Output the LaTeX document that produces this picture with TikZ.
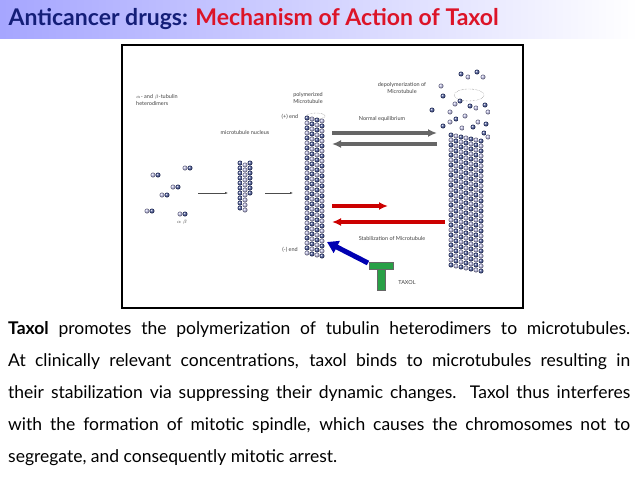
\documentclass[tikz,border=0pt]{standalone}
\usepackage{fontspec}
\setmainfont{Lato}
\usetikzlibrary{arrows.meta}
\definecolor{titleblue}{RGB}{20,30,120}
\definecolor{titlered}{RGB}{220,20,40}
\definecolor{dimerdark}{RGB}{70,85,150}
\definecolor{dimerlight}{RGB}{185,185,225}
\definecolor{taxolgreen}{RGB}{40,160,70}
\tikzset{
  tiny/.style={font=\fontsize{5.5}{6.5}\selectfont, text=black!75, align=center, inner sep=0pt},
  fatarrow/.style={line width=3.5pt, -{Latex[length=9pt,width=8pt]}},
}
% one coloured bead of a tubule
\newcommand{\bead}[3]{\shade[ball color=#3] (#1,#2) circle (2.5);}
\begin{document}
\begin{tikzpicture}[x=1pt,y=-1pt]
  \useasboundingbox (0,0) rectangle (638,479);
  % title band
  \shade[left color=blue!35!white, right color=white] (0,0) rectangle (638,38);
  \node[anchor=west, font=\fontsize{23}{28}\selectfont\bfseries] (title) at (5,19)
    {\textcolor{titleblue}{Anticancer drugs:} \textcolor{titlered}{Mechanism of Action of Taxol}};
  % figure frame
  \draw[line width=2.5pt] (122,45) rectangle (523,308);
  % free dimers
  \foreach \x/\y in {153/175,185/168,173/187,162/195,147/211,180/214}{
    \bead{\x}{\y}{dimerlight}
    \bead{\x+5}{\y}{dimerdark}
  }
  \node[tiny, anchor=west, align=left] (lab1) at (136,100) {$\alpha$- and $\beta$-tubulin\\heterodimers};
  \node[tiny] (ab) at (182,222) {$\alpha\ \beta$};
  % nucleus
  \foreach \r in {0,...,9}{
    \bead{240}{163+5*\r}{dimerdark}
    \bead{245}{165+5*\r}{dimerlight}
  }
  \foreach \r in {0,...,6}{ \bead{250}{163+5*\r}{dimerdark} }
  \node[tiny] (nuc) at (245,132) {microtubule nucleus};
  \draw[-{Latex[length=3pt]}, black!70] (198,193) -- (228,193);
  \draw[-{Latex[length=3pt]}, black!70] (265,193) -- (293,193);
  % polymerized microtubule
  \foreach \r in {0,...,27}{
    \foreach \c in {0,...,3}{
      \pgfmathsetmacro{\odd}{mod(\r+\c,2)}
      \ifdim\odd pt=0pt \bead{307+5*\c}{118+5*\r+\c}{dimerdark}
      \else \bead{307+5*\c}{118+5*\r+\c}{dimerlight}\fi
    }
  }
  \draw[densely dotted, black!60] (316,116) ellipse (9 and 3);
  \node[tiny] (poly) at (308,98) {polymerized\\Microtubule};
  \node[tiny] (plus) at (290,117) {(+) end};
  \node[tiny] (minus) at (290,250) {(-) end};
  % depolymerized microtubule
  \foreach \r in {0,...,26}{
    \foreach \c in {0,...,6}{
      \pgfmathsetmacro{\odd}{mod(\r+\c,2)}
      \ifdim\odd pt=0pt \bead{451+5*\c}{135+5*\r+\c}{dimerdark}
      \else \bead{451+5*\c}{135+5*\r+\c}{dimerlight}\fi
    }
  }
  \foreach \x/\y/\k in {461/74/dimerdark,468/77/dimerlight,477/72/dimerdark,483/77/dimerlight,
      441/86/dimerlight,443/96/dimerdark,455/104/dimerlight,460/101/dimerdark,
      432/110/dimerdark,450/112/dimerlight,470/106/dimerdark,476/108/dimerlight,
      485/105/dimerdark,488/112/dimerlight,456/119/dimerdark,465/116/dimerlight,
      478/122/dimerlight,486/124/dimerdark,443/126/dimerdark,450/122/dimerlight,
      488/137/dimerlight,484/133/dimerdark,473/127/dimerdark,462/128/dimerlight}{
    \bead{\x}{\y}{\k}
  }
  \draw[densely dotted, black!60] (469,95) ellipse (15 and 6);
  \node[tiny] (depoly) at (402,88) {depolymerization of\\Microtubule};
  % equilibrium arrows
  \coordinate (gr1) at (332,133); \coordinate (gr2) at (437,133);
  \coordinate (gl1) at (437,144); \coordinate (gl2) at (332,144);
  \draw[fatarrow, black!60] (gr1) -- (gr2);
  \draw[fatarrow, black!60] (gl1) -- (gl2);
  \node[tiny] (normal) at (382,119) {Normal equilibrium};
  \coordinate (rr1) at (332,206); \coordinate (rr2) at (388,206);
  \coordinate (rl1) at (445,222); \coordinate (rl2) at (332,222);
  \draw[fatarrow, red!80!black] (rr1) -- (rr2);
  \draw[fatarrow, red!80!black] (rl1) -- (rl2);
  \node[tiny] (stab) at (392,238) {Stabilization of Microtubule};
  % taxol
  \fill[taxolgreen, draw=black!60] (369,262) rectangle (393,269);
  \fill[taxolgreen, draw=black!60] (377,269) rectangle (385,290);
  \node[tiny] (taxol) at (407,283) {TAXOL};
  \coordinate (bt) at (368,263); \coordinate (bh) at (327,242);
  \draw[line width=5pt, blue!70!black, -{Triangle[length=11pt,width=13pt]}] (bt) -- (bh);
  % explanation
  \node[anchor=north west, text width=622pt, align=justify, inner sep=0pt,
        font=\fontsize{17.5}{32}\selectfont] (expl) at (8,321)
    {\textbf{Taxol} promotes the polymerization of tubulin heterodimers to microtubules.\linebreak
     At clinically relevant concentrations, taxol binds to microtubules resulting in\linebreak
     their stabilization via suppressing their dynamic changes. Taxol thus interferes\linebreak
     with the formation of mitotic spindle, which causes the chromosomes not to\linebreak
     segregate, and consequently mitotic arrest.};
\end{tikzpicture}
\end{document}
